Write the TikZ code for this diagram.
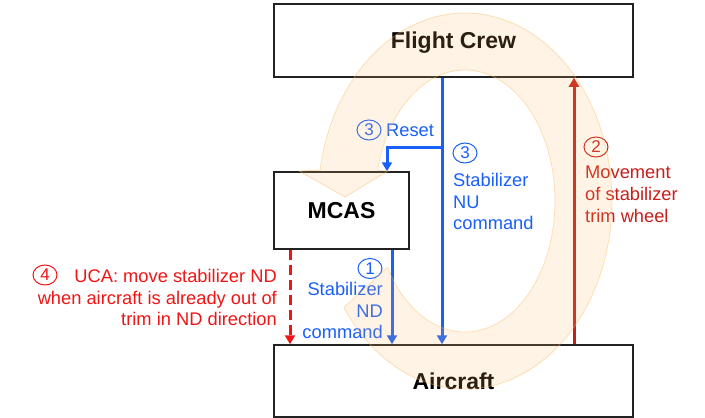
\documentclass[tikz,border=0pt]{standalone}
\usepackage{fontspec}
\setmainfont{Liberation Sans}
\usetikzlibrary{arrows.meta,shapes.geometric}
\definecolor{bl}{RGB}{25,95,250}
\definecolor{dred}{RGB}{200,30,25}
\definecolor{bred}{RGB}{240,20,20}
\definecolor{ringc}{RGB}{250,185,95}
\definecolor{boxc}{RGB}{34,34,34}
\begin{document}
\begin{tikzpicture}[x=1pt,y=-1pt,
 box/.style={draw=boxc, line width=1.5pt, fill=white, inner sep=0, text depth=0pt, font=\fontsize{23}{27}\selectfont\bfseries},
 num/.style={ellipse, draw, line width=1pt, minimum width=24pt, minimum height=20pt, inner sep=0, font=\fontsize{17}{20}\selectfont},
 lbl/.style={inner sep=0, font=\fontsize{18.3}{21.7}\selectfont},
 tip/.style={-{Triangle[width=10pt,length=9pt]}},
 conn/.style={line width=3pt},
 ring/.style={fill=ringc, fill opacity=0.17, draw=ringc, draw opacity=0.4, line width=0.8pt}]
\useasboundingbox (0,0) rectangle (705,418);
% boxes
\node[box, minimum width=359pt, minimum height=73pt] (fc) at (453.5,40.5) {Flight Crew};
\node[box, minimum width=359pt, minimum height=72pt] (ac) at (453.5,381) {Aircraft};
\node[box, minimum width=135pt, minimum height=77pt] (mcas) at (341.5,210.5) {MCAS};
% x positions of connectors
\coordinate (xnu) at (442,0);
\coordinate (xr) at (387,0);
\coordinate (br) at (442,147);
\coordinate (x1) at (392,0);
\coordinate (x2) at (574,0);
\coordinate (x4) at (290,0);
% connectors
\draw[conn, bl, tip] (fc.south -| xnu) -- (ac.north -| xnu);
\draw[conn, bl, tip] (br) -| (mcas.north -| xr);
\draw[conn, bl, tip] (mcas.south -| x1) -- (ac.north -| x1);
\draw[conn, dred, tip] (ac.north -| x2) -- (fc.south -| x2);
\draw[conn, bred, tip, dash pattern=on 10pt off 5pt] (mcas.south -| x4) -- (ac.north -| x4);
% labels
\node[num, bl] (c3r) at (369,130) {3};
\node[lbl, bl, anchor=base west] (reset) at (386,136) {Reset};
\node[num, bl] (c3) at (465,153) {3};
\node[lbl, bl, anchor=north west, align=left] (nu) at (453,173) {Stabilizer\\NU\\command};
\node[num, dred] (c2) at (596,147) {2};
\node[lbl, dred, anchor=north west, align=left] (mv) at (585,166) {Movement\\of stabilizer\\trim wheel};
\node[num, bl] (c1) at (370,268.5) {1};
\node[lbl, bl, anchor=north east, align=right] (nd) at (383,282) {Stabilizer\\ND\\command};
\node[num, bred] (c4) at (45,275) {4};
\node[lbl, bred, anchor=north east, align=right] (uca) at (277,269) {UCA: move stabilizer ND\\when aircraft is already out of\\trim in ND direction};
% translucent loop arrow
\path[ring] plot[domain=214.5:530.5, samples=120] ({465+147*cos(\x)},{201-188*sin(\x)})
  -- (299,171) -- (345,197) -- (388,171)
  -- plot[domain=526.3:210.5, samples=120] ({465+90*cos(\x)},{201-131*sin(\x)}) -- cycle;
\end{tikzpicture}
\end{document}
